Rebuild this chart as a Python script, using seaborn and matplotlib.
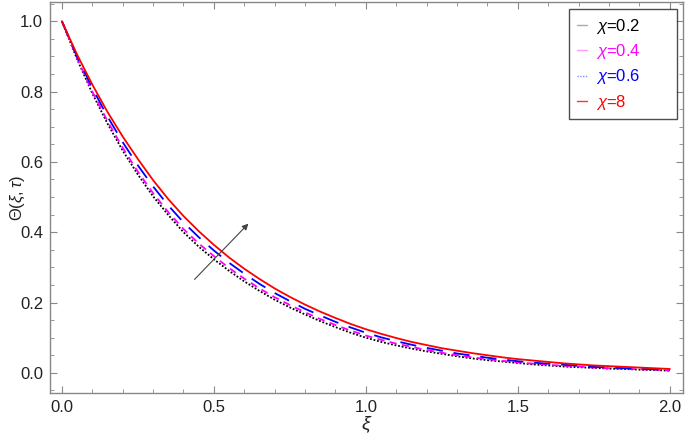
import numpy as np
import pandas as pd
import matplotlib
matplotlib.use("Agg")
import matplotlib.pyplot as plt
from matplotlib.lines import Line2D
from matplotlib.ticker import MultipleLocator, FormatStrFormatter
import seaborn as sns

# ===================== data =====================
xi = [0.00, 0.05, 0.10, 0.15, 0.20, 0.25, 0.30, 0.35, 0.40, 0.45, 0.50,
      0.55, 0.60, 0.65, 0.70, 0.75, 0.80, 0.85, 0.90, 0.95, 1.00,
      1.05, 1.10, 1.15, 1.20, 1.25, 1.30, 1.35, 1.40, 1.45, 1.50,
      1.55, 1.60, 1.65, 1.70, 1.75, 1.80, 1.85, 1.90, 1.95, 2.00]

theta_chi_02 = [1.000, 0.892, 0.795, 0.709, 0.632, 0.564, 0.502, 0.449, 0.400, 0.359, 0.323,
                0.290, 0.260, 0.233, 0.208, 0.186, 0.166, 0.147, 0.130, 0.114, 0.100,
                0.088, 0.078, 0.069, 0.061, 0.054, 0.047, 0.041, 0.036, 0.032, 0.028,
                0.024, 0.021, 0.018, 0.016, 0.014, 0.012, 0.011, 0.009, 0.008, 0.006]
theta_chi_04 = [1.000, 0.895, 0.800, 0.716, 0.640, 0.572, 0.511, 0.457, 0.409, 0.368, 0.332,
                0.298, 0.268, 0.240, 0.215, 0.193, 0.172, 0.153, 0.136, 0.120, 0.106,
                0.094, 0.083, 0.074, 0.065, 0.057, 0.050, 0.044, 0.039, 0.034, 0.030,
                0.026, 0.023, 0.020, 0.018, 0.015, 0.013, 0.012, 0.010, 0.009, 0.007]
theta_chi_06 = [1.000, 0.900, 0.810, 0.729, 0.656, 0.590, 0.530, 0.476, 0.428, 0.386, 0.348,
                0.313, 0.282, 0.253, 0.227, 0.204, 0.182, 0.163, 0.145, 0.129, 0.114,
                0.101, 0.090, 0.080, 0.071, 0.063, 0.055, 0.049, 0.043, 0.038, 0.033,
                0.029, 0.026, 0.023, 0.020, 0.017, 0.015, 0.013, 0.011, 0.010, 0.008]
theta_chi_8 = [1.000, 0.905, 0.820, 0.742, 0.672, 0.608, 0.548, 0.494, 0.446, 0.403, 0.364,
               0.328, 0.296, 0.267, 0.240, 0.216, 0.194, 0.174, 0.156, 0.139, 0.124,
               0.111, 0.099, 0.088, 0.079, 0.070, 0.063, 0.056, 0.050, 0.044, 0.039,
               0.035, 0.031, 0.027, 0.024, 0.021, 0.019, 0.017, 0.015, 0.013, 0.011]

labels = ["$\\chi$=0.2", "$\\chi$=0.4", "$\\chi$=0.6", "$\\chi$=8"]
colors = ["black", "#ff00ff", "#0000ff", "#ff0000"]
legend_colors = ["#aaaaaa", "#ff99ff", "#8888ff", "#ff3333"]
styles = [(0, (1, 1)), (0, (4, 3)), (0, (9, 6)), "-"]

# arrow from lower left to upper right (in data units)
arrow_start = (0.43, 0.26)
arrow_end = (0.62, 0.43)

# ===================== plot =====================
sns.set_style("ticks")
plt.rcParams['font.family'] = ['Liberation Sans', 'DejaVu Sans']
plt.rcParams['mathtext.fontset'] = 'custom'
plt.rcParams['mathtext.rm'] = 'Liberation Sans'
plt.rcParams['mathtext.it'] = 'Liberation Sans:italic'

fig = plt.figure(figsize=(6.85, 4.38), dpi=100)
ax = fig.add_axes([0.073, 0.103, 0.924, 0.892])

series = [theta_chi_02, theta_chi_04, theta_chi_06, theta_chi_8]
for vals, lab, col, ls in zip(series, labels, colors, styles):
    df = pd.DataFrame({"xi": xi, "theta": vals})
    sns.lineplot(data=df, x="xi", y="theta", ax=ax, color=col,
                 linestyle=ls, linewidth=1.3, label=lab)

ax.annotate("", xy=arrow_end, xytext=arrow_start,
            arrowprops=dict(arrowstyle="-|>", color="#444444", lw=0.8,
                            mutation_scale=9))

ax.set_xlim(-0.039, 2.043)
ax.set_ylim(-0.057, 1.054)
ax.xaxis.set_major_locator(MultipleLocator(0.5))
ax.xaxis.set_minor_locator(MultipleLocator(0.1))
ax.yaxis.set_major_locator(MultipleLocator(0.2))
ax.yaxis.set_minor_locator(MultipleLocator(0.05))
ax.xaxis.set_major_formatter(FormatStrFormatter('%.1f'))
ax.yaxis.set_major_formatter(FormatStrFormatter('%.1f'))

ax.tick_params(which="both", direction="in", top=True, right=True,
               color="#888888", labelsize=12, labelcolor="#222222")
ax.tick_params(which="major", length=5, width=0.8, pad=5)
ax.tick_params(which="minor", length=3, width=0.6)
for sp in ax.spines.values():
    sp.set_color("#888888")
    sp.set_linewidth(1.0)

ax.set_xlabel("$\\xi$", fontsize=14, color="#222222")
ax.set_ylabel("$\\Theta(\\xi, \\tau)$", fontsize=12, color="#222222")
ax.xaxis.set_label_coords(0.5, -0.082)
ax.yaxis.set_label_coords(-0.051, 0.5)
ax.xaxis.label.set_va("center")
ax.yaxis.label.set_va("center")

# legend box stretched to the width seen in the reference
handles = [Line2D([0], [0], color=c, lw=1.0, linestyle=ls)
           for c, ls in zip(legend_colors, ["-", "-", (0, (1, 1)), "-"])]
leg = ax.legend(handles, labels, loc="upper left",
                bbox_to_anchor=(0.820, 0.982, 0.1705, 0.0), mode="expand",
                fontsize=12, frameon=True, fancybox=False, handlelength=0.6,
                handletextpad=0.55, labelspacing=0.38, borderpad=0.45,
                borderaxespad=0.0)
leg.get_frame().set_edgecolor("#222222")
leg.get_frame().set_linewidth(1.0)
for txt, c in zip(leg.get_texts(), colors):
    txt.set_color(c)

fig.savefig("out.png", dpi=100)
